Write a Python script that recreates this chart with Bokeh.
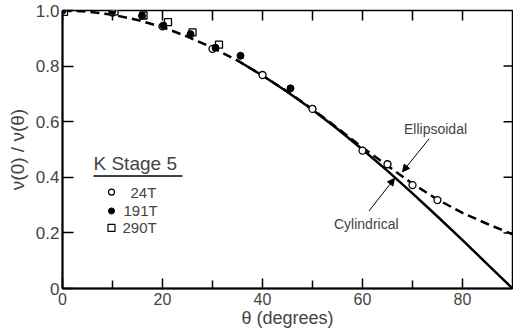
from bokeh.plotting import figure
from bokeh.models import FixedTicker, Label, Arrow, NormalHead, Range1d
from bokeh.embed import file_html
from bokeh.resources import INLINE

# ---- data ----
theta_24 = [0, 10, 20, 30, 40, 50, 60, 65, 70, 75]
ratio_24 = [1.0, 0.993, 0.943, 0.862, 0.768, 0.646, 0.496, 0.447, 0.372, 0.318]

theta_191 = [0, 10, 15.9, 20.2, 25.6, 30.6, 35.6, 45.6]
ratio_191 = [1.0, 0.999, 0.981, 0.946, 0.915, 0.866, 0.837, 0.72]

theta_290 = [0.3, 10.4, 16.2, 21.1, 26.0, 31.3]
ratio_290 = [0.995, 0.997, 0.982, 0.958, 0.921, 0.877]

theta_ell = [0, 5, 10, 15, 20, 25, 30, 35, 40, 45, 50, 55, 60, 65, 70, 75, 80, 85, 90]
ratio_ell = [1.0, 0.996, 0.985, 0.966, 0.94, 0.906, 0.866, 0.82, 0.766, 0.708,
             0.645, 0.577, 0.507, 0.442, 0.377, 0.32, 0.272, 0.232, 0.195]

theta_cyl = [35, 40, 45, 50, 55, 60, 65, 70, 75, 80, 85, 90]
ratio_cyl = [0.82, 0.766, 0.707, 0.643, 0.574, 0.5, 0.423, 0.342, 0.259, 0.174, 0.087, 0.0]

x_ticks = [0, 20, 40, 60, 80]
x_minor = [10, 30, 50, 70]
y_ticks = [0, 0.2, 0.4, 0.6, 0.8, 1.0]
y_right_ticks = [0.2, 0.4, 0.6, 0.8]
series_names = ["24T", "191T", "290T"]

FONT = "Liberation Sans"
X0, X1, Y0, Y1 = 0, 90, 0, 1.0
FRAME_W, FRAME_H = 450, 278
TOP_TICK_PX, RIGHT_TICK_PX = 10, 9

p = figure(width=513, height=330, output_backend="svg", toolbar_location=None,
           x_range=Range1d(X0, X1), y_range=Range1d(Y0, Y1),
           min_border_left=62, min_border_right=1, min_border_top=10,
           min_border_bottom=42)
p.grid.visible = False
p.outline_line_color = "black"
p.outline_line_width = 1.5
p.background_fill_color = "white"
p.border_fill_color = "white"

# bottom axis
xa = p.xaxis[0]
xa.ticker = FixedTicker(ticks=x_ticks, minor_ticks=x_minor)
xa.major_tick_in = 10
xa.major_tick_out = 0
xa.minor_tick_in = 8
xa.minor_tick_out = 0
xa.axis_line_width = 2
xa.major_tick_line_width = 1.5
xa.minor_tick_line_width = 1.5
xa.major_label_text_font = FONT
xa.major_label_text_font_size = "16px"
xa.major_label_standoff = 4
xa.axis_label = "θ (degrees)"
xa.axis_label_text_font = FONT
xa.axis_label_text_font_style = "normal"
xa.axis_label_text_font_size = "18px"
xa.axis_label_standoff = 0

# left axis
ya = p.yaxis[0]
ya.ticker = FixedTicker(ticks=y_ticks, minor_ticks=[])
ya.major_label_overrides = {0: "0", 1: "1.0"}
ya.major_tick_in = 11
ya.major_tick_out = 0
ya.axis_line_width = 2
ya.major_tick_line_width = 1.5
ya.major_label_text_font = FONT
ya.major_label_text_font_size = "17px"
ya.major_label_standoff = 3
ya.axis_label = "ν(0) / ν(θ)"
ya.axis_label_text_font = FONT
ya.axis_label_text_font_style = "normal"
ya.axis_label_text_font_size = "19px"
ya.axis_label_standoff = 5

# inward ticks on the top and right frame edges
top_ticks = x_ticks + x_minor
dy = (Y1 - Y0) * TOP_TICK_PX / FRAME_H
dx = (X1 - X0) * RIGHT_TICK_PX / FRAME_W
p.segment(x0=top_ticks, y0=[Y1] * len(top_ticks), x1=top_ticks,
          y1=[Y1 - dy] * len(top_ticks), line_color="black", line_width=1.5)
p.segment(x0=[X1] * len(y_right_ticks), y0=y_right_ticks,
          x1=[X1 - dx] * len(y_right_ticks), y1=y_right_ticks,
          line_color="black", line_width=1.5)

# curves
p.line(theta_ell, ratio_ell, line_color="black", line_width=2.5, line_dash="9 5")
p.line(theta_cyl, ratio_cyl, line_color="black", line_width=2.5)

# data points
p.scatter(theta_24, ratio_24, marker="circle", size=7, fill_color="white",
          line_color="black", line_width=1.3)
p.scatter(theta_290, ratio_290, marker="square", size=7, fill_color="white",
          line_color="black", line_width=1.3)
p.scatter(theta_191, ratio_191, marker="circle", size=7, fill_color="black",
          line_color="black")

# annotations
p.add_layout(Label(x=68.3, y=0.574, text="Ellipsoidal", text_baseline="middle",
                   text_font=FONT, text_font_size="14px"))
p.add_layout(Arrow(end=NormalHead(size=7, fill_color="black", line_color="black"),
                   x_start=73.3, y_start=0.538, x_end=68.0, y_end=0.42,
                   line_width=1))
p.add_layout(Label(x=54.3, y=0.232, text="Cylindrical", text_baseline="middle",
                   text_font=FONT, text_font_size="14px"))
p.add_layout(Arrow(end=NormalHead(size=7, fill_color="black", line_color="black"),
                   x_start=61.3, y_start=0.279, x_end=66.4, y_end=0.396,
                   line_width=1))

# legend block
p.add_layout(Label(x=6.2, y=0.448, text="K Stage 5", text_baseline="middle",
                   text_font=FONT, text_font_size="19px"))
p.segment(x0=[6.2], y0=[0.405], x1=[24.0], y1=[0.405], line_color="black",
          line_width=1.5)
leg_y = [0.347, 0.279, 0.218]
leg_x = [13.6, 12.2, 12.0]
p.scatter([9.8], [leg_y[0]], marker="circle", size=6, fill_color="white",
          line_color="black", line_width=1.2)
p.scatter([9.8], [leg_y[1]], marker="circle", size=6, fill_color="black",
          line_color="black")
p.scatter([9.8], [leg_y[2]], marker="square", size=7, fill_color="white",
          line_color="black", line_width=1.2)
for nm, lx, ly in zip(series_names, leg_x, leg_y):
    p.add_layout(Label(x=lx, y=ly, text=nm, text_baseline="middle",
                       text_font=FONT, text_font_size="15px"))

open("out.html", "w").write(file_html(p, INLINE))
